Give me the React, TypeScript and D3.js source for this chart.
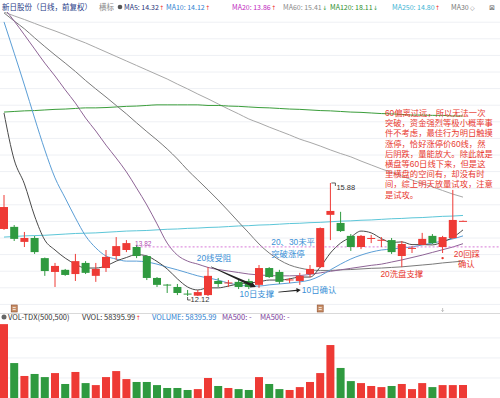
import React, { useRef, useEffect } from 'react';
import * as d3 from 'd3';

const W = 500;
const H = 398;

// daily candles (前复权), oldest first
const opens = [14.35, 14.42, 13.92, 14.05, 13.38, 12.92, 12.99, 12.85, 13.22, 12.79,
  13.05, 13.45, 13.65, 13.75, 13.45, 12.72, 12.50, 12.42, 12.20, 12.13,
  12.15, 12.62, 12.55, 12.59, 12.62, 12.49, 13.05, 12.92, 12.65, 12.62,
  12.85, 13.08, 14.82, 14.55, 14.12, 13.75, 14.02, 13.97, 13.98, 13.45,
  13.70, 13.82, 14.12, 13.75, 14.05, 14.62];
const highs = [15.48, 14.48, 14.25, 14.12, 13.40, 13.22, 13.02, 13.52, 13.28, 13.22,
  13.65, 14.08, 13.98, 13.82, 13.48, 12.75, 12.52, 12.52, 12.32, 12.32,
  13.08, 12.72, 12.65, 12.69, 12.69, 13.15, 13.08, 12.99, 12.72, 12.89,
  13.15, 14.40, 15.88, 14.92, 14.18, 14.15, 14.15, 14.08, 14.05, 13.95,
  13.78, 14.22, 14.18, 14.12, 15.65, 14.63];
const lows = [14.32, 13.95, 13.75, 13.52, 12.79, 12.42, 12.79, 12.62, 12.85, 12.59,
  12.92, 13.32, 13.58, 13.38, 12.65, 12.42, 12.22, 12.15, 12.12, 12.12,
  12.12, 12.42, 12.42, 12.35, 12.35, 12.39, 12.72, 12.52, 12.55, 12.49,
  12.75, 13.05, 13.98, 14.25, 13.62, 13.68, 13.88, 13.75, 13.52, 13.08,
  13.55, 13.82, 13.85, 13.55, 14.02, 14.61];
const closes = [15.08, 14.02, 14.05, 13.58, 12.95, 13.12, 12.82, 13.28, 12.89, 13.02,
  13.42, 13.78, 13.88, 13.45, 12.72, 12.49, 12.47, 12.22, 12.18, 12.25,
  12.79, 12.52, 12.57, 12.42, 12.42, 13.05, 12.75, 12.59, 12.67, 12.79,
  13.02, 14.38, 14.95, 14.28, 13.75, 14.12, 14.05, 13.99, 13.58, 13.85,
  13.72, 14.02, 13.88, 14.08, 14.65, 14.62];
const volumes = [332000, 157000, 99000, 108000, 94000, 112000, 63000, 117000, 67000, 58000,
  94000, 121000, 85000, 72000, 72000, 58000, 45000, 45000, 36000, 40000,
  90000, 54000, 45000, 40000, 36000, 94000, 63000, 40000, 36000, 49000,
  72000, 112000, 238000, 135000, 76000, 67000, 54000, 49000, 54000, 63000,
  40000, 67000, 49000, 58000, 58000, 58396];

// moving averages
const ma5 = [18.21, 16.65, 15.85, 14.78, 13.98, 13.65, 13.38, 13.18, 13.05, 13.05,
  13.12, 13.28, 13.40, 13.50, 13.45, 13.27, 13.02, 12.69, 12.42, 12.32,
  12.39, 12.39, 12.45, 12.52, 12.55, 12.59, 12.65, 12.65, 12.69, 12.75,
  12.75, 13.08, 13.55, 13.88, 14.08, 14.28, 14.22, 14.03, 13.90, 13.92,
  13.83, 13.83, 13.82, 13.92, 14.07, 14.32];
const ma10 = [21.24, 20.20, 19.14, 18.04, 16.98, 16.05, 15.38, 14.72, 14.12, 13.72,
  13.45, 13.35, 13.28, 13.28, 13.25, 13.18, 13.08, 12.99, 12.89, 12.79,
  12.72, 12.65, 12.55, 12.49, 12.45, 12.45, 12.49, 12.52, 12.55, 12.59,
  12.65, 12.79, 12.99, 13.18, 13.35, 13.48, 13.58, 13.65, 13.68, 13.72,
  13.75, 13.82, 13.88, 13.95, 14.02, 14.12];
const ma20 = [21.70, 21.27, 20.81, 20.34, 19.87, 19.44, 18.98, 18.54, 18.04, 17.61,
  17.14, 16.71, 16.25, 15.71, 15.15, 14.52, 13.88, 13.48, 13.28, 13.18,
  13.07, 13.00, 12.95, 12.90, 12.85, 12.82, 12.80, 12.79, 12.79, 12.80,
  12.84, 12.89, 12.94, 12.99, 13.04, 13.09, 13.14, 13.18, 13.25, 13.32,
  13.40, 13.48, 13.57, 13.66, 13.75, 13.86];
const ma30 = [21.54, 21.27, 21.01, 20.71, 20.42, 20.14, 19.87, 19.59, 19.29, 19.01,
  18.74, 18.46, 18.18, 17.88, 17.59, 17.31, 17.01, 16.68, 16.31, 15.98,
  15.65, 15.31, 14.95, 14.58, 14.22, 13.85, 13.55, 13.32, 13.15, 13.05,
  12.99, 12.97, 12.97, 12.99, 13.00, 13.02, 13.04, 13.05, 13.07, 13.09,
  13.12, 13.15, 13.18, 13.22, 13.25, 13.28];
const ma60 = [21.57, 21.44, 21.32, 21.19, 21.06, 20.94, 20.81, 20.67, 20.54, 20.39,
  20.24, 20.09, 19.94, 19.79, 19.64, 19.49, 19.34, 19.17, 19.01, 18.84,
  18.68, 18.51, 18.34, 18.18, 18.01, 17.88, 17.74, 17.61, 17.48, 17.34,
  17.23, 17.11, 16.98, 16.86, 16.75, 16.61, 16.48, 16.35, 16.23, 16.11,
  15.98, 15.86, 15.75, 15.63, 15.51, 15.41];
const ma120 = [18.24, 18.26, 18.28, 18.29, 18.31, 18.33, 18.34, 18.36, 18.38, 18.38,
  18.39, 18.41, 18.43, 18.44, 18.46, 18.48, 18.48, 18.48, 18.48, 18.48,
  18.46, 18.46, 18.44, 18.43, 18.41, 18.39, 18.38, 18.36, 18.34, 18.33,
  18.31, 18.29, 18.28, 18.26, 18.24, 18.23, 18.21, 18.19, 18.18, 18.16,
  18.14, 18.14, 18.13, 18.13, 18.11, 18.11];
const ma250 = [14.08, 14.10, 14.12, 14.13, 14.14, 14.16, 14.18, 14.20, 14.21, 14.22,
  14.24, 14.26, 14.28, 14.29, 14.30, 14.32, 14.34, 14.35, 14.37, 14.38,
  14.40, 14.41, 14.43, 14.45, 14.46, 14.48, 14.49, 14.51, 14.53, 14.54,
  14.56, 14.57, 14.59, 14.61, 14.62, 14.64, 14.65, 14.67, 14.69, 14.70,
  14.72, 14.73, 14.75, 14.77, 14.78, 14.80];

const RED = '#ee3a35';
const GREEN = '#2f9a3f';
const BLUE = '#3a8fd6';
const NOTE_RED = '#e8392f';

const maSeries = [
  { values: ma60, color: '#a8a8a8' },
  { values: ma120, color: '#3a9d3a' },
  { values: ma250, color: '#5cc6d8' },
  { values: ma30, color: '#7a7a7a' },
  { values: ma20, color: '#8e6496' },
  { values: ma10, color: '#5b9ed6' },
  { values: ma5, color: '#4a4a4a' },
];

// header legend
const legend = [
  { text: 'MA5: 14.32', color: '#27357a', x: 124, arrow: '↑', ac: RED },
  { text: 'MA10: 14.12', color: '#2f7fd0', x: 166, arrow: '↑', ac: RED },
  { text: 'MA20: 13.86', color: '#c02ac0', x: 232, arrow: '↑', ac: RED },
  { text: 'MA60: 15.41', color: '#8a8a8a', x: 283, arrow: '↓', ac: GREEN },
  { text: 'MA120: 18.11', color: '#2e8f2e', x: 330, arrow: '↓', ac: GREEN },
  { text: 'MA250: 14.80', color: '#3cb4d4', x: 392, arrow: '↑', ac: RED },
];

// annotations: text, candle index, price, colour
const notes = [
  { text: '20线受阻', i: 18.9, p: 13.30, color: BLUE },
  { text: '10日支撑', i: 23.1, p: 12.10, color: BLUE },
  { text: '10日确认', i: 29.2, p: 12.22, color: BLUE },
  { text: '20、30未平', i: 26.2, p: 13.80, color: BLUE },
  { text: '突破涨停', i: 26.2, p: 13.42, color: BLUE },
  { text: '20洗盘支撑', i: 36.9, p: 12.75, color: NOTE_RED },
  { text: '20回踩', i: 44.1, p: 13.43, color: NOTE_RED },
  { text: '确认', i: 44.5, p: 13.10, color: NOTE_RED },
];

const story = [
  '60偏离过远，所以无法一次',
  '突破，资金强烈等极小概率事',
  '件不考虑，最佳行为明日触摸',
  '涨停，恰好涨停价60线，然',
  '后阴跌，量能放大。除此就是',
  '横盘等60日线下来，但是这',
  '里横盘的空间有，却没有时',
  '间，综上明天放量试攻，注意',
  '是试攻。',
];

function arrowPath(x0, y0, x1, y1, w0, w1, head) {
  const dx = x1 - x0, dy = y1 - y0;
  const L = Math.hypot(dx, dy);
  const ux = dx / L, uy = dy / L, px = -uy, py = ux;
  const bx = x1 - ux * head * 1.8, by = y1 - uy * head * 1.8;
  const pts = [
    [x0 + px * w0 / 2, y0 + py * w0 / 2],
    [bx + px * w1 / 2, by + py * w1 / 2],
    [bx + px * head, by + py * head],
    [x1, y1],
    [bx - px * head, by - py * head],
    [bx - px * w1 / 2, by - py * w1 / 2],
    [x0 - px * w0 / 2, y0 - py * w0 / 2],
  ];
  return 'M' + pts.map(p => p[0].toFixed(1) + ',' + p[1].toFixed(1)).join('L') + 'Z';
}

export default function App() {
  const ref = useRef<SVGSVGElement>(null);

  useEffect(() => {
    const svg = d3.select(ref.current);
    svg.selectAll('*').remove();
    const font = '"Noto Sans CJK SC", "DejaVu Sans", sans-serif';
    // compact line box for stacked annotation lines
    const noteFont = '"Liberation Sans", "Noto Sans CJK SC", sans-serif';
    const arrowFont = '"DejaVu Sans", sans-serif';

    const x = d3.scaleLinear().domain([0, closes.length - 1]).range([4, 463]);
    const y = d3.scaleLinear().domain([11.82, 21.47]).range([305, 15]);
    const v = d3.scaleLinear().domain([0, 400000]).range([398, 309]);
    const isUp = (i: number) => closes[i] >= opens[i];

    svg.append('rect').attr('width', W).attr('height', H).attr('fill', '#fff');

    // faint grid
    svg.append('g').selectAll('line')
      .data(d3.range(22.2, 305, 16.6))
      .join('line')
      .attr('x1', 0).attr('x2', W)
      .attr('y1', d => d).attr('y2', d => d)
      .attr('stroke', '#eef0f4');
    svg.append('g').selectAll('line')
      .data([90000, 180000, 270000])
      .join('line')
      .attr('x1', 0).attr('x2', W)
      .attr('y1', d => v(d)).attr('y2', d => v(d))
      .attr('stroke', '#eef0f4');
    svg.append('line')
      .attr('x1', 0).attr('x2', W).attr('y1', 313.5).attr('y2', 313.5)
      .attr('stroke', '#d9d9d9');

    svg.append('defs').append('clipPath').attr('id', 'plotClip')
      .append('rect').attr('x', 0).attr('y', 12).attr('width', W).attr('height', 298);
    const plot = svg.append('g').attr('clip-path', 'url(#plotClip)');

    // MA lines
    const line = d3.line<number>()
      .x((d, i) => x(i))
      .y(d => y(d))
      .curve(d3.curveMonotoneX);
    maSeries.forEach(s => {
      plot.append('path')
        .attr('d', line(s.values))
        .attr('fill', 'none')
        .attr('stroke', s.color)
        .attr('stroke-width', 1);
    });

    // dotted level at the 13.82 high
    plot.append('line')
      .attr('x1', x(13)).attr('x2', W)
      .attr('y1', y(13.82) + 2).attr('y2', y(13.82) + 2)
      .attr('stroke', '#d77ad7')
      .attr('stroke-dasharray', '2,2');

    // candles
    const candles = plot.append('g');
    d3.range(closes.length).forEach(i => {
      const c = isUp(i) ? RED : GREEN;
      candles.append('line')
        .attr('x1', x(i)).attr('x2', x(i))
        .attr('y1', y(highs[i])).attr('y2', y(lows[i]))
        .attr('stroke', c).attr('stroke-width', 1);
      const top = y(Math.max(opens[i], closes[i]));
      const bot = y(Math.min(opens[i], closes[i]));
      candles.append('rect')
        .attr('x', x(i) - 4).attr('width', 8)
        .attr('y', top).attr('height', Math.max(1, bot - top))
        .attr('fill', c);
    });

    // high / low marks
    const hx = x(32), hy = y(15.88);
    svg.append('path').attr('d', `M${hx + 1},${hy}H${hx + 5}V${hy + 3}`)
      .attr('fill', 'none').attr('stroke', '#333').attr('stroke-width', 0.8);
    svg.append('text').attr('x', hx + 6).attr('y', hy + 7)
      .attr('font-size', 7.5).attr('font-family', noteFont).attr('fill', '#333').text('15.88');
    const lx = x(18), ly = y(12.12);
    svg.append('path').attr('d', `M${lx},${ly + 1}V${ly + 4}H${lx + 3}`)
      .attr('fill', 'none').attr('stroke', '#333').attr('stroke-width', 0.8);
    svg.append('text').attr('x', lx + 3).attr('y', ly + 6)
      .attr('font-size', 7.5).attr('font-family', noteFont).attr('fill', '#333').text('12.12');
    svg.append('text').attr('x', x(13) - 1.5).attr('y', y(13.82) + 1)
      .attr('font-size', 6.5).attr('font-family', noteFont).attr('fill', '#b04ab0').text('13.82');

    // arrows
    svg.append('path')
      .attr('d', arrowPath(x(20.3), y(13.09), x(24.7), y(12.42), 0.6, 2.6, 3))
      .attr('fill', '#222');
    svg.append('path')
      .attr('d', arrowPath(x(26.9), y(12.25), x(29.1), y(12.32), 0.6, 1.4, 2.4))
      .attr('fill', '#222');
    svg.append('circle').attr('cx', x(43)).attr('cy', y(13.38)).attr('r', 1.2).attr('fill', NOTE_RED);

    // notes
    notes.forEach(n => {
      svg.append('text')
        .attr('x', x(n.i)).attr('y', y(n.p))
        .attr('font-size', 8.4).attr('font-family', noteFont)
        .attr('fill', n.color).text(n.text);
    });
    const sy = y(18.11);
    story.forEach((s, k) => {
      svg.append('text')
        .attr('x', x(37.35)).attr('y', sy + k * 10.2)
        .attr('font-size', 8.3).attr('font-family', noteFont)
        .attr('fill', NOTE_RED).text(s);
    });

    // info markers between panes
    [1, 31].forEach(i => {
      svg.append('rect').attr('x', x(i) - 3).attr('y', 305).attr('width', 6).attr('height', 7)
        .attr('fill', '#c99068').attr('stroke', '#8a4a2a').attr('stroke-width', 0.6);
      svg.append('path').attr('d', `M${x(i) - 1.5},307.5H${x(i) + 1.5}M${x(i) - 1.5},309.5H${x(i) + 1.5}`)
        .attr('stroke', '#fff').attr('stroke-width', 0.7);
    });
    svg.append('path').attr('d', `M${x(43)},308V311.5M${x(43) - 1.2},310.3L${x(43)},311.5L${x(43) + 1.2},310.3`)
      .attr('fill', 'none').attr('stroke', '#999').attr('stroke-width', 0.6);

    // volume bars
    svg.append('g').selectAll('rect')
      .data(volumes)
      .join('rect')
      .attr('x', (d, i) => x(i) - 4)
      .attr('width', 8)
      .attr('y', d => v(d))
      .attr('height', d => v(0) - v(d))
      .attr('fill', (d, i) => (isUp(i) ? RED : GREEN));

    // main header
    const hdr = svg.append('g').attr('font-family', font);
    hdr.append('text').attr('x', 2).attr('y', 10).attr('fill', '#1f3c88')
      .attr('font-size', 7.5).text('新日股份（日线，前复权）');
    hdr.append('text').attr('x', 99).attr('y', 10).attr('fill', '#8a8a8a')
      .attr('font-size', 7.5).text('横标');
    hdr.append('circle').attr('cx', 120).attr('cy', 7).attr('r', 2.3).attr('fill', '#555');
    legend.forEach(l => {
      const t = hdr.append('text').attr('x', l.x).attr('y', 10).attr('fill', l.color)
        .attr('font-size', 7).text(l.text);
      const len = (t.node() as SVGTextElement).getComputedTextLength();
      hdr.append('text').attr('x', l.x + len + 0.5).attr('y', 10).attr('fill', l.ac)
        .attr('font-family', arrowFont).attr('font-size', 6).text(l.arrow);
    });
    hdr.append('text').attr('x', 451).attr('y', 10).attr('fill', '#777')
      .attr('font-size', 7).text('MA30');
    hdr.append('text').attr('x', 470).attr('y', 10).attr('fill', '#777')
      .attr('font-family', arrowFont).attr('font-size', 6).text('◇');
    hdr.append('text').attr('x', 489).attr('y', 10).attr('fill', '#666')
      .attr('font-family', arrowFont).attr('font-size', 7).text('⊠');

    // volume header
    const vh = svg.append('g').attr('font-family', font).attr('font-size', 7.5);
    vh.append('circle').attr('cx', 4).attr('cy', 317).attr('r', 2.5).attr('fill', '#666');
    vh.append('text').attr('x', 8).attr('y', 320).attr('fill', '#333').text('VOL-TDX(500,500)');
    const vv = vh.append('text').attr('x', 82).attr('y', 320).attr('fill', '#333').text('VVOL: 58395.99');
    const vvLen = (vv.node() as SVGTextElement).getComputedTextLength();
    vh.append('text').attr('x', 82 + vvLen + 0.5).attr('y', 320).attr('fill', RED)
      .attr('font-family', arrowFont).attr('font-size', 6).text('↑');
    vh.append('text').attr('x', 152).attr('y', 320).attr('fill', '#2f7fd0').text('VOLUME: 58395.99');
    vh.append('text').attr('x', 222).attr('y', 320).attr('fill', '#7a3a9a').text('MA500: -');
    vh.append('text').attr('x', 260).attr('y', 320).attr('fill', '#7a3a9a').text('MA500: -');
  }, []);

  return (
    <svg
      ref={ref}
      width={W}
      height={H}
      style={{ position: 'absolute', left: 0, top: 0, display: 'block' }}
    />
  );
}
